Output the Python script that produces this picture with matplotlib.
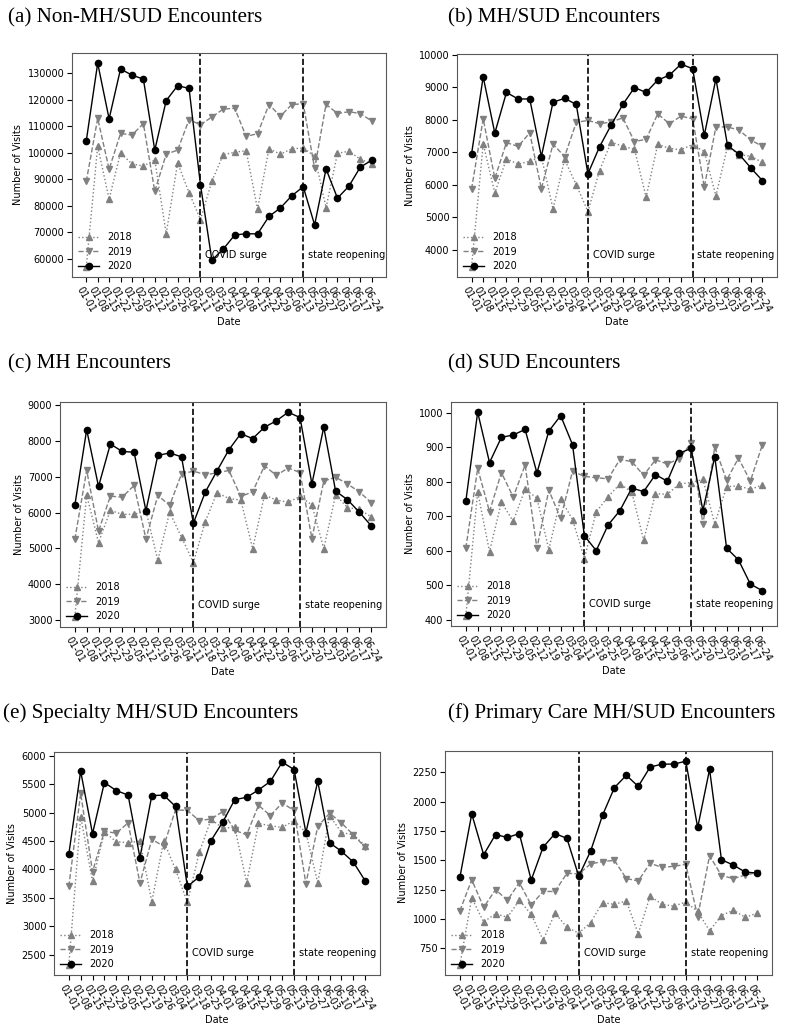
import numpy as np
import matplotlib
matplotlib.use("Agg")
import matplotlib.pyplot as plt
import matplotlib.transforms as mtransforms
from matplotlib.ticker import MultipleLocator

weeks = ["01-01", "01-08", "01-15", "01-22", "01-29", "02-05", "02-12", "02-19",
         "02-26", "03-04", "03-11", "03-18", "03-25", "04-01", "04-08", "04-15",
         "04-22", "04-29", "05-06", "05-13", "05-20", "05-27", "06-03", "06-10",
         "06-17", "06-24"]
covid_week = "03-11"
reopen_week = "05-13"

# (a) Non-MH/SUD
nonmh_2018 = [57000, 102500, 82500, 100000, 95800, 95000, 97300, 69500, 96200, 85000,
              74800, 89300, 99300, 100200, 100800, 78800, 101500, 99500, 101500, 101800,
              98700, 79300, 99800, 100600, 97600, 95800]
nonmh_2019 = [89200, 113000, 93800, 107300, 106700, 111000, 85500, 99500, 101000, 112500,
              110600, 113500, 116500, 116800, 106200, 107200, 118200, 113800, 118200, 118500,
              94100, 118300, 114800, 115500, 114800, 112000]
nonmh_2020 = [104500, 133800, 112800, 131600, 129300, 127800, 101000, 119700, 125300, 124300,
              88000, 59500, 63700, 69000, 69500, 69400, 76000, 79200, 83800, 87200,
              72800, 93900, 82900, 87400, 94600, 97200]

# (b) MH/SUD
mhsud_2018 = [3480, 7260, 5750, 6800, 6640, 6720, 6870, 5260, 6780, 6000,
              5180, 6440, 7320, 7180, 7100, 5620, 7250, 7120, 7080, 7240,
              7020, 5660, 7180, 6930, 6880, 6690]
mhsud_2019 = [5870, 8030, 6200, 7300, 7180, 7600, 5880, 7250, 6870, 7920,
              7980, 7880, 7930, 8060, 7330, 7400, 8180, 7880, 8110, 8030,
              5930, 7780, 7780, 7680, 7380, 7180]
mhsud_2020 = [6950, 9320, 7590, 8840, 8640, 8640, 6870, 8540, 8660, 8470,
              6340, 7170, 7840, 8470, 8990, 8840, 9220, 9370, 9710, 9570,
              7520, 9260, 7210, 6940, 6520, 6130]

# (c) MH
mh_2018 = [3080, 6490, 5160, 6060, 5950, 5950, 6050, 4660, 6010, 5310,
           4600, 5740, 6560, 6390, 6350, 4990, 6490, 6350, 6290, 6450,
           6210, 4990, 6490, 6140, 6090, 5880]
mh_2019 = [5250, 7180, 5480, 6460, 6430, 6760, 5260, 6480, 6200, 7080,
           7160, 7060, 7110, 7180, 6450, 6580, 7310, 7040, 7250, 7120,
           5270, 6880, 6990, 6800, 6580, 6280]
mh_2020 = [6200, 8320, 6730, 7920, 7710, 7690, 6050, 7600, 7670, 7560,
           5700, 6570, 7170, 7760, 8210, 8070, 8390, 8570, 8810, 8660,
           6800, 8390, 6600, 6360, 6010, 5630]

# (d) SUD
sud_2018 = [411, 770, 597, 740, 685, 778, 752, 603, 750, 690,
            577, 712, 756, 793, 770, 630, 765, 763, 793, 797,
            806, 678, 785, 788, 777, 790]
sud_2019 = [607, 838, 713, 826, 755, 848, 607, 775, 693, 830,
            815, 811, 808, 864, 858, 818, 863, 851, 866, 912,
            676, 900, 804, 868, 801, 905]
sud_2020 = [743, 1001, 855, 928, 935, 951, 825, 946, 991, 907,
            643, 600, 674, 716, 781, 771, 820, 801, 882, 896,
            716, 872, 607, 573, 503, 484]

# (e) Specialty MH/SUD
spec_2018 = [2320, 4930, 3790, 4660, 4490, 4470, 4500, 3430, 4500, 4000,
             3420, 4300, 4880, 4730, 4740, 3770, 4810, 4770, 4740, 4860,
             4650, 3760, 4950, 4650, 4610, 4420]
spec_2019 = [3700, 5340, 3960, 4670, 4640, 4820, 3760, 4530, 4410, 5050,
             5040, 4860, 4890, 5020, 4690, 4610, 5130, 4950, 5170, 5040,
             3750, 4760, 4990, 4820, 4610, 4390]
spec_2020 = [4270, 5730, 4630, 5530, 5390, 5310, 4210, 5300, 5310, 5110,
             3700, 3870, 4510, 4840, 5230, 5270, 5400, 5550, 5890, 5760,
             4650, 5550, 4470, 4320, 4130, 3800]

# (f) Primary care MH/SUD
pc_2018 = [610, 1180, 975, 1045, 1015, 1160, 1040, 820, 1050, 930,
           880, 970, 1140, 1125, 1155, 875, 1195, 1125, 1110, 1145,
           1065, 900, 1030, 1075, 1015, 1050]
pc_2019 = [1070, 1335, 1100, 1250, 1160, 1310, 1120, 1235, 1235, 1390,
           1385, 1470, 1490, 1500, 1345, 1325, 1475, 1440, 1450, 1465,
           1020, 1540, 1370, 1345, 1375, 1395]
pc_2020 = [1355, 1895, 1548, 1720, 1695, 1728, 1332, 1612, 1728, 1688,
           1365, 1580, 1885, 2120, 2225, 2130, 2295, 2320, 2320, 2345,
           1780, 2275, 1505, 1460, 1400, 1392]

panels = [
    ("(a) Non-MH/SUD Encounters", nonmh_2018, nonmh_2019, nonmh_2020, 10000),
    ("(b) MH/SUD Encounters", mhsud_2018, mhsud_2019, mhsud_2020, 1000),
    ("(c) MH Encounters", mh_2018, mh_2019, mh_2020, 1000),
    ("(d) SUD Encounters", sud_2018, sud_2019, sud_2020, 100),
    ("(e) Specialty MH/SUD Encounters", spec_2018, spec_2019, spec_2020, 500),
    ("(f) Primary Care MH/SUD Encounters", pc_2018, pc_2019, pc_2020, 250),
]

W, H = 793, 1035
# axes boxes in pixels: left, right, top, bottom
boxes = [(72, 386, 53, 277), (457, 777, 54, 277),
         (60, 386, 402, 627), (451, 777, 402, 626),
         (54, 380, 752, 975), (445, 772, 751, 975)]
# title anchor in pixels: x, baseline y
title_pos = [(8, 22), (448, 22), (8, 368), (448, 368), (3, 718), (448, 718)]

fig = plt.figure(figsize=(W / 100, H / 100), dpi=100)
x = np.arange(len(weeks))
small = 7

for (title, y18, y19, y20, step), (l, r, t, b), (tx, ty) in zip(panels, boxes, title_pos):
    ax = fig.add_axes([l / W, 1 - b / H, (r - l) / W, (b - t) / H])
    ax.plot(x, y18, linestyle=':', color='gray', marker='^', markersize=4.5, linewidth=1, label='2018')
    ax.plot(x, y19, linestyle='--', color='gray', marker='v', markersize=4.5, linewidth=1, label='2019')
    ax.plot(x, y20, linestyle='-', color='black', marker='o', markersize=4.5, linewidth=1, label='2020')
    c = weeks.index(covid_week)
    s = weeks.index(reopen_week)
    ax.axvline(c, color='black', linestyle='--', linewidth=1.2)
    ax.axvline(s, color='black', linestyle='--', linewidth=1.2)
    trans = mtransforms.blended_transform_factory(ax.transData, ax.transAxes)
    ax.text(c + 0.4, 0.1, "COVID surge", transform=trans, fontsize=small, va='center')
    ax.text(s + 0.4, 0.1, "state reopening", transform=trans, fontsize=small, va='center')
    ax.set_xticks(x)
    ax.set_xticklabels(weeks)
    ax.tick_params(axis='x', labelrotation=-60, labelsize=small, pad=2)
    ax.tick_params(axis='y', labelsize=small, pad=2)
    ax.yaxis.set_major_locator(MultipleLocator(step))
    ax.set_xlabel("Date", fontsize=small, labelpad=2)
    ax.set_ylabel("Number of Visits", fontsize=small, labelpad=3)
    for sp in ax.spines.values():
        sp.set_color('0.35')
        sp.set_linewidth(0.8)
    ax.legend(loc='lower left', frameon=False, fontsize=small, borderaxespad=0.2,
              handlelength=2.2, labelspacing=0.45)
    fig.text(tx / W, 1 - ty / H, title, family='Liberation Serif', fontsize=15.2,
             ha='left', va='baseline')

fig.savefig("out.png", dpi=100)
